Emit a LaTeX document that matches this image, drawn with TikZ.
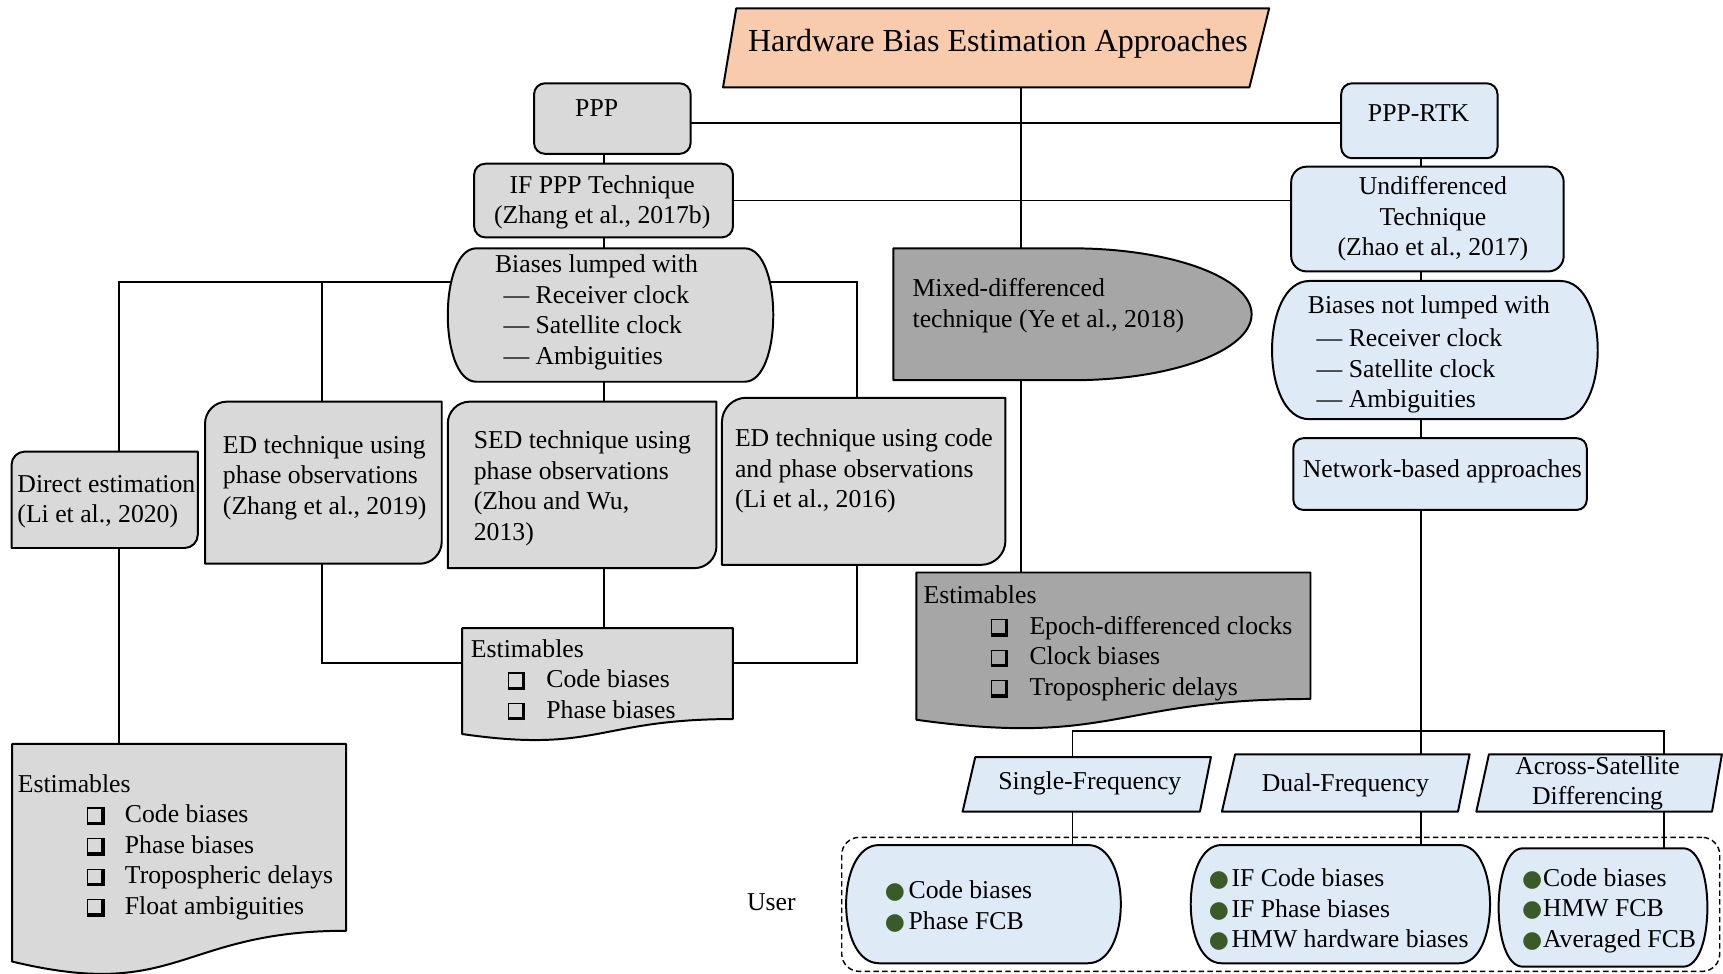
\documentclass[tikz,border=0pt]{standalone}
\usepackage{fontspec}
\setmainfont{Liberation Serif}
\newfontfamily\symfont{DejaVu Sans}
\usetikzlibrary{calc}

\definecolor{grayL}{HTML}{D9D9D9}
\definecolor{grayD}{HTML}{A6A6A6}
\definecolor{blueL}{HTML}{DEEAF6}
\definecolor{peach}{HTML}{F8CBAD}
\definecolor{dotgreen}{HTML}{3A5A27}

\pgfdeclarelayer{backdrop}
\pgfdeclarelayer{wires}
\pgfsetlayers{backdrop,wires,main}

\newcommand\bodyfont{\fontsize{23.4}{27.8}\selectfont}
\newcommand\titlefont{\fontsize{29.2}{34}\selectfont}
% shadowed check box: thin top and left sides, heavy right and bottom sides
\newcommand\chkglyph{\begingroup\setlength\unitlength{1pt}%
  \begin{picture}(16,14)
    \put(0,-2){\rule{1.2pt}{16pt}}
    \put(0,12.8){\rule{16pt}{1.2pt}}
    \put(13,-2){\rule{3pt}{16pt}}
    \put(0,-2){\rule{16pt}{3pt}}
  \end{picture}\endgroup}
\newcommand\chkbox[1]{\makebox[#1][l]{\chkglyph}}
\newcommand\gdot[1]{\makebox[#1][l]{\color{dotgreen}\symfont\fontsize{21}{21}\selectfont ●}}

% rectangle with rounded top-left and bottom-right corners
\newcommand\diagframe[7]{% name, fill, x1, y1, x2, y2, radius
  \path[shapeline, fill=#2] ({#3},{#6}) -- ({#3},{#4+#7})
    .. controls ({#3},{#4+0.45*#7}) and ({#3+0.45*#7},{#4}) .. ({#3+#7},{#4})
    -- ({#5},{#4}) -- ({#5},{#6-#7})
    .. controls ({#5},{#6-0.45*#7}) and ({#5-0.45*#7},{#6}) .. ({#5-#7},{#6}) -- cycle;
  \node[bbx, minimum width={#5-(#3)}, minimum height={#6-(#4)}] (#1) at ({(#3+#5)/2},{(#4+#6)/2}) {};}

% flat top and bottom, bulging sides
\newcommand\pillframe[7]{% name, fill, x1, y1, x2, y2, bulge
  \path[shapeline, fill=#2] ({#3+#7},{#4}) -- ({#5-#7},{#4})
    .. controls ({#5+#7/3},{#4}) and ({#5+#7/3},{#6}) .. ({#5-#7},{#6})
    -- ({#3+#7},{#6})
    .. controls ({#3-#7/3},{#6}) and ({#3-#7/3},{#4}) .. ({#3+#7},{#4}) -- cycle;
  \node[bbx, minimum width={#5-(#3)}, minimum height={#6-(#4)}] (#1) at ({(#3+#5)/2},{(#4+#6)/2}) {};}

% document sheet with a wavy lower edge
\newcommand\docframe[6]{% name, fill, x1, y1, x2, h
  \path[shapeline, fill=#2] ({#3},{#4}) -- ({#5},{#4}) -- ({#5},{#4+0.802*#6})
    .. controls ({(#3+#5)/2},{#4+0.802*#6}) and ({(#3+#5)/2},{#4+1.107*#6}) .. ({#3},{#4+0.934*#6}) -- cycle;
  \node[bbx, minimum width={#5-(#3)}, minimum height={#6}] (#1) at ({(#3+#5)/2},{#4+#6/2}) {};}

% box with a half-ellipse on its right
\newcommand\delayframe[7]{% name, fill, x1, xs, x2, y1, y2
  \path[shapeline, fill=#2] ({#3},{#6}) -- ({#4},{#6})
    .. controls ({#4+0.552*(#5-#4)},{#6}) and ({#5},{(#6+#7)/2-0.276*(#7-#6)}) .. ({#5},{(#6+#7)/2})
    .. controls ({#5},{(#6+#7)/2+0.276*(#7-#6)}) and ({#4+0.552*(#5-#4)},{#7}) .. ({#4},{#7})
    -- ({#3},{#7}) -- cycle;
  \node[bbx, minimum width={#5-(#3)}, minimum height={#7-(#6)}] (#1) at ({(#3+#5)/2},{(#6+#7)/2}) {};}

% parallelogram
\newcommand\paraframe[8]{% name, fill, x top-left, x top-right, x bottom-right, x bottom-left, y top, y bottom
  \path[shapeline, fill=#2] ({#3},{#7}) -- ({#4},{#7}) -- ({#5},{#8}) -- ({#6},{#8}) -- cycle;
  \node[bbx, minimum width={max(#4,#5)-min(#3,#6)}, minimum height={#8-(#7)}]
    (#1) at ({(min(#3,#6)+max(#4,#5))/2},{(#7+#8)/2}) {};}

\begin{document}
\begin{tikzpicture}[x=1pt, y=-1pt,
  shapeline/.style={draw=black, line width=1.8pt, line join=round},
  bbx/.style={inner sep=0pt, outer sep=0pt, draw=none},
  rbox/.style={draw=black, line width=1.8pt, inner sep=0pt, outer sep=0pt},
  zone/.style={draw=black, line width=1.3pt, dash pattern=on 5pt off 3pt, rounded corners=16pt, inner sep=0pt, outer sep=0pt},
  wire/.style={line width=1.7pt},
  ltxt/.style={font=\bodyfont, inner sep=0pt, align=left, anchor=west},
  ctxt/.style={font=\bodyfont, inner sep=0pt, align=center}]

\begin{pgfonlayer}{backdrop}
\fill[white] (0,0) rectangle (1568,886);
\end{pgfonlayer}
\useasboundingbox (0,0) rectangle (1568,886);

% ---------- shapes ----------
\paraframe{title}{peach}{670}{1155}{1137}{658}{7.6}{79.5}

\node[rbox, fill=grayL, rounded corners=10pt, minimum width=142.5pt, minimum height=64.2pt] (ppp) at (557.25,107.9) {};
\node[rbox, fill=grayL, rounded corners=10pt, minimum width=235.5pt, minimum height=67pt] (ifppp) at (549.25,182.5) {};
\pillframe{lumped}{grayL}{407.5}{226}{703.7}{347.4}{26}
\diagframe{direct}{grayL}{10.5}{411}{180}{498.7}{12}
\diagframe{edphase}{grayL}{186.6}{365.5}{402}{513}{20}
\diagframe{sed}{grayL}{407.5}{365.5}{652}{517}{20}
\diagframe{edcode}{grayL}{657}{362}{915}{514}{22}
\docframe{estM}{grayL}{420.6}{571.6}{667}{103.2}
\docframe{estL}{grayL}{11}{677}{315}{212}

\delayframe{mixed}{grayD}{813}{976}{1139}{226}{346}
\docframe{estD}{grayD}{834}{521}{1192.6}{143.5}

\node[rbox, fill=blueL, rounded corners=10pt, minimum width=142.3pt, minimum height=68.2pt] (rtk) at (1291.65,109.9) {};
\node[rbox, fill=blueL, rounded corners=14pt, minimum width=248pt, minimum height=95.3pt] (undiff) at (1299,199.35) {};
\pillframe{notl}{blueL}{1157.6}{255.7}{1454}{381.5}{34}
\node[rbox, fill=blueL, rounded corners=9pt, minimum width=267pt, minimum height=65.2pt] (network) at (1310.5,431.4) {};
\paraframe{single}{blueL}{887.5}{1102}{1092}{876}{689}{738.6}
\paraframe{dual}{blueL}{1124}{1337.4}{1326.8}{1112}{686.4}{738.6}
\paraframe{across}{blueL}{1355}{1567}{1558}{1343.5}{686.4}{738.6}

\node[zone, minimum width=799pt, minimum height=122pt] (userZone) at (1165.5,823) {};
\pillframe{userL}{blueL}{770}{769}{1020}{876.6}{30}
\pillframe{userM}{blueL}{1083.6}{769}{1356}{876.6}{28}
\pillframe{userR}{blueL}{1363.8}{772}{1553.8}{879.7}{22}

% ---------- texts ----------
\node[ctxt, font=\titlefont] (titleT) at (908.2,39.4) {Hardware Bias Estimation Approaches};
\node[ctxt] (pppT) at (543,98.6) {PPP};
\node[ctxt] (ifpppT) at (548,184.3) {IF PPP Technique\\(Zhang et al., 2017b)};
\node[ltxt] (lumpedT) at (450.3,284.4) {Biases lumped with\\\hspace*{7.7pt}— Receiver clock\\\hspace*{7.7pt}— Satellite clock\\\hspace*{7.7pt}— Ambiguities};
\node[ltxt] (directT) at (15.7,456.5) {Direct estimation\\(Li et al., 2020)};
\node[ltxt] (edphaseT) at (202.7,434.8) {ED technique using\\phase observations\\(Zhang et al., 2019)};
\node[ltxt] (sedT) at (431,444.4) {SED technique using\\phase observations\\(Zhou and Wu,\\2013)};
\node[ltxt] (edcodeT) at (668.7,428.7) {ED technique using code\\and phase observations\\(Li et al., 2016)};
\node[ltxt] (estMT) at (428.4,617.8) {Estimables\\\hspace*{33.6pt}\chkbox{35pt}Code biases\\\hspace*{33.6pt}\chkbox{35pt}Phase biases};
\node[ltxt] (estLT) at (16,771) {Estimables\\\hspace*{63pt}\chkbox{34.5pt}Code biases\\\hspace*{63pt}\chkbox{34.5pt}Phase biases\\\hspace*{63pt}\chkbox{34.5pt}Tropospheric delays\\\hspace*{63pt}\chkbox{34.5pt}Float ambiguities};
\node[ltxt] (mixedT) at (830.3,278.4) {Mixed-differenced\\technique (Ye et al., 2018)};
\node[ltxt] (estDT) at (840.4,585.6) {Estimables\\\hspace*{60.8pt}\chkbox{35.5pt}Epoch-differenced clocks\\\hspace*{60.8pt}\chkbox{35.5pt}Clock biases\\\hspace*{60.8pt}\chkbox{35.5pt}Tropospheric delays};
\node[ctxt] (rtkT) at (1291,103) {PPP-RTK};
\node[ctxt] (undiffT) at (1304,199.2) {Undifferenced\\Technique\\(Zhao et al., 2017)};
\node[ltxt] (notlT) at (1190,322.3) {Biases not lumped with\\[2.6pt]\hspace*{8pt}— Receiver clock\\\hspace*{8pt}— Satellite clock\\\hspace*{8pt}— Ambiguities};
\node[ctxt] (networkT) at (1312.6,429.2) {Network-based approaches};
\node[ctxt] (singleT) at (991.8,712.8) {Single-Frequency};
\node[ctxt] (dualT) at (1224.4,715) {Dual-Frequency};
\node[ctxt] (acrossT) at (1453.8,712.8) {Across-Satellite\\Differencing};
\node[ctxt] (userT) at (702,821) {User};
\node[ltxt] (userLT) at (805,825) {\gdot{21.7pt}Code biases\\\gdot{21.7pt}Phase FCB};
\node[ltxt] (userMT) at (1100,828) {\gdot{20.6pt}IF Code biases\\\gdot{20.6pt}IF Phase biases\\\gdot{20.6pt}HMW hardware biases};
\node[ltxt] (userRT) at (1385,828.7) {\gdot{19pt}Code biases\\\gdot{19pt}HMW FCB\\\gdot{19pt}Averaged FCB};

% ---------- connectors ----------
\coordinate (trunk) at (929,0);
\coordinate (colA) at (108,0);
\coordinate (colB) at (293,0);
\coordinate (colL) at (550,0);
\coordinate (colD) at (780,0);
\coordinate (colR) at (1293,0);
\coordinate (colS) at (976,0);
\coordinate (colX) at (1514,0);
\coordinate (rowP) at (0,112);
\coordinate (rowA) at (0,257);
\coordinate (rowE) at (0,603);
\coordinate (rowF) at (0,665);

\begin{pgfonlayer}{wires}
\draw[wire] (title.south -| trunk) -- (estD.north -| trunk);
\draw[wire] (ppp.east |- rowP) -- (rtk.west |- rowP);
\draw[wire] (ifppp.east) -- (ifppp.east -| undiff.west);
\draw[wire] (ppp.south -| colL) -- (ifppp.north -| colL);
\draw[wire] (ifppp.south -| colL) -- (lumped.north -| colL);
\draw[wire] (lumped.south -| colL) -- (sed.north -| colL);
\draw[wire] (direct.north -| colA) |- (colD |- rowA) -- (edcode.north -| colD);
\draw[wire] (colB |- rowA) -- (edphase.north -| colB);
\draw[wire] (direct.south -| colA) -- (estL.north -| colA);
\draw[wire] (edphase.south -| colB) |- (estM.west |- rowE);
\draw[wire] (edcode.south -| colD) |- (estM.east |- rowE);
\draw[wire] (sed.south -| colL) -- (estM.north -| colL);
\draw[wire] (rtk.south -| colR) -- (undiff.north -| colR);
\draw[wire] (undiff.south -| colR) -- (notl.north -| colR);
\draw[wire] (notl.south -| colR) -- (network.north -| colR);
\draw[wire] (network.south -| colR) -- (dual.north -| colR);
\draw[wire] (dual.south -| colR) -- (userM.north -| colR);
\draw[wire] (single.north -| colS) |- (colX |- rowF) -- (across.north -| colX);
\draw[wire] (single.south -| colS) -- (userL.north -| colS);
\draw[wire] (across.south -| colX) -- (userR.north -| colX);
\end{pgfonlayer}
\end{tikzpicture}
\end{document}
